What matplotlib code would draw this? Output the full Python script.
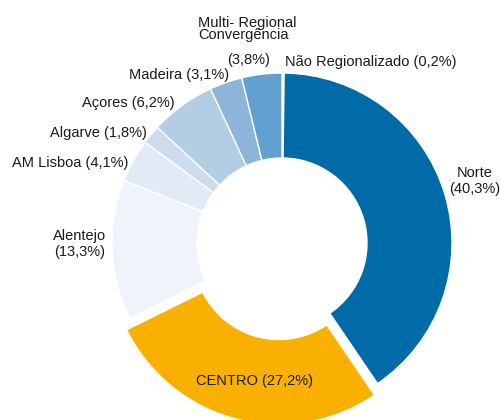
import matplotlib
matplotlib.use('Agg')
from matplotlib import pyplot as plt

plt.rcParams['font.family'] = ['Liberation Sans', 'DejaVu Sans']

regions = ['Não Regionalizado', 'Norte', 'CENTRO', 'Alentejo', 'AM Lisboa',
           'Algarve', 'Açores', 'Madeira', 'Multi- Regional\nConvergência']
shares = [0.2, 40.3, 27.2, 13.3, 4.1, 1.8, 6.2, 3.1, 3.8]
colors = ['#dce8f3', '#006ba6', '#f9b000', '#eff4fa', '#e2ebf5',
          '#cddcec', '#b3cde5', '#8db5d9', '#61a0cf']
explode = [0, 0, 0.07, 0, 0, 0, 0, 0, 0]

W, H = 501, 420
cx, cy, R = 282, 243, 170  # centre and outer radius in pixels


def px(x, y):
    # pixel position (from top-left) -> data coordinates
    return (x - cx) / R, (cy - y) / R


fig = plt.figure(figsize=(W / 100, H / 100), dpi=100)
ax = fig.add_axes([0, 0, 1, 1])
ax.pie(shares, colors=colors, explode=explode, startangle=90, counterclock=False,
       radius=1, wedgeprops=dict(width=0.5, edgecolor='white', linewidth=1))
ax.set_xlim(-cx / R, (W - cx) / R)
ax.set_ylim(-(H - cy) / R, cy / R)
ax.set_aspect('equal')
ax.axis('off')

fmt = lambda v: f'({v:.1f}%)'.replace('.', ',')
tc = '#1a1a1a'
fs = 10.5

ax.text(*px(285, 62), f'{regions[0]} {fmt(shares[0])}', ha='left', va='center', fontsize=fs, color=tc)
ax.text(*px(475, 181), f'{regions[1]}\n{fmt(shares[1])}', ha='center', va='center', fontsize=fs, color=tc)
ax.text(*px(254, 381), f'{regions[2]} {fmt(shares[2])}', ha='center', va='center', fontsize=fs, color=tc)
ax.text(*px(80, 244), f'{regions[3]}\n{fmt(shares[3])}', ha='center', va='center', fontsize=fs, color=tc)
ax.text(*px(128, 163), f'{regions[4]} {fmt(shares[4])}', ha='right', va='center', fontsize=fs, color=tc)
ax.text(*px(147, 133), f'{regions[5]} {fmt(shares[5])}', ha='right', va='center', fontsize=fs, color=tc)
ax.text(*px(175, 103), f'{regions[6]} {fmt(shares[6])}', ha='right', va='center', fontsize=fs, color=tc)
ax.text(*px(229, 75), f'{regions[7]} {fmt(shares[7])}', ha='right', va='center', fontsize=fs, color=tc)
ax.text(*px(198, 29), regions[8], ha='left', va='center', fontsize=fs, color=tc, linespacing=0.9)
ax.text(*px(249, 60), fmt(shares[8]), ha='center', va='center', fontsize=fs, color=tc)

fig.savefig('out.png', dpi=100, facecolor='white')
